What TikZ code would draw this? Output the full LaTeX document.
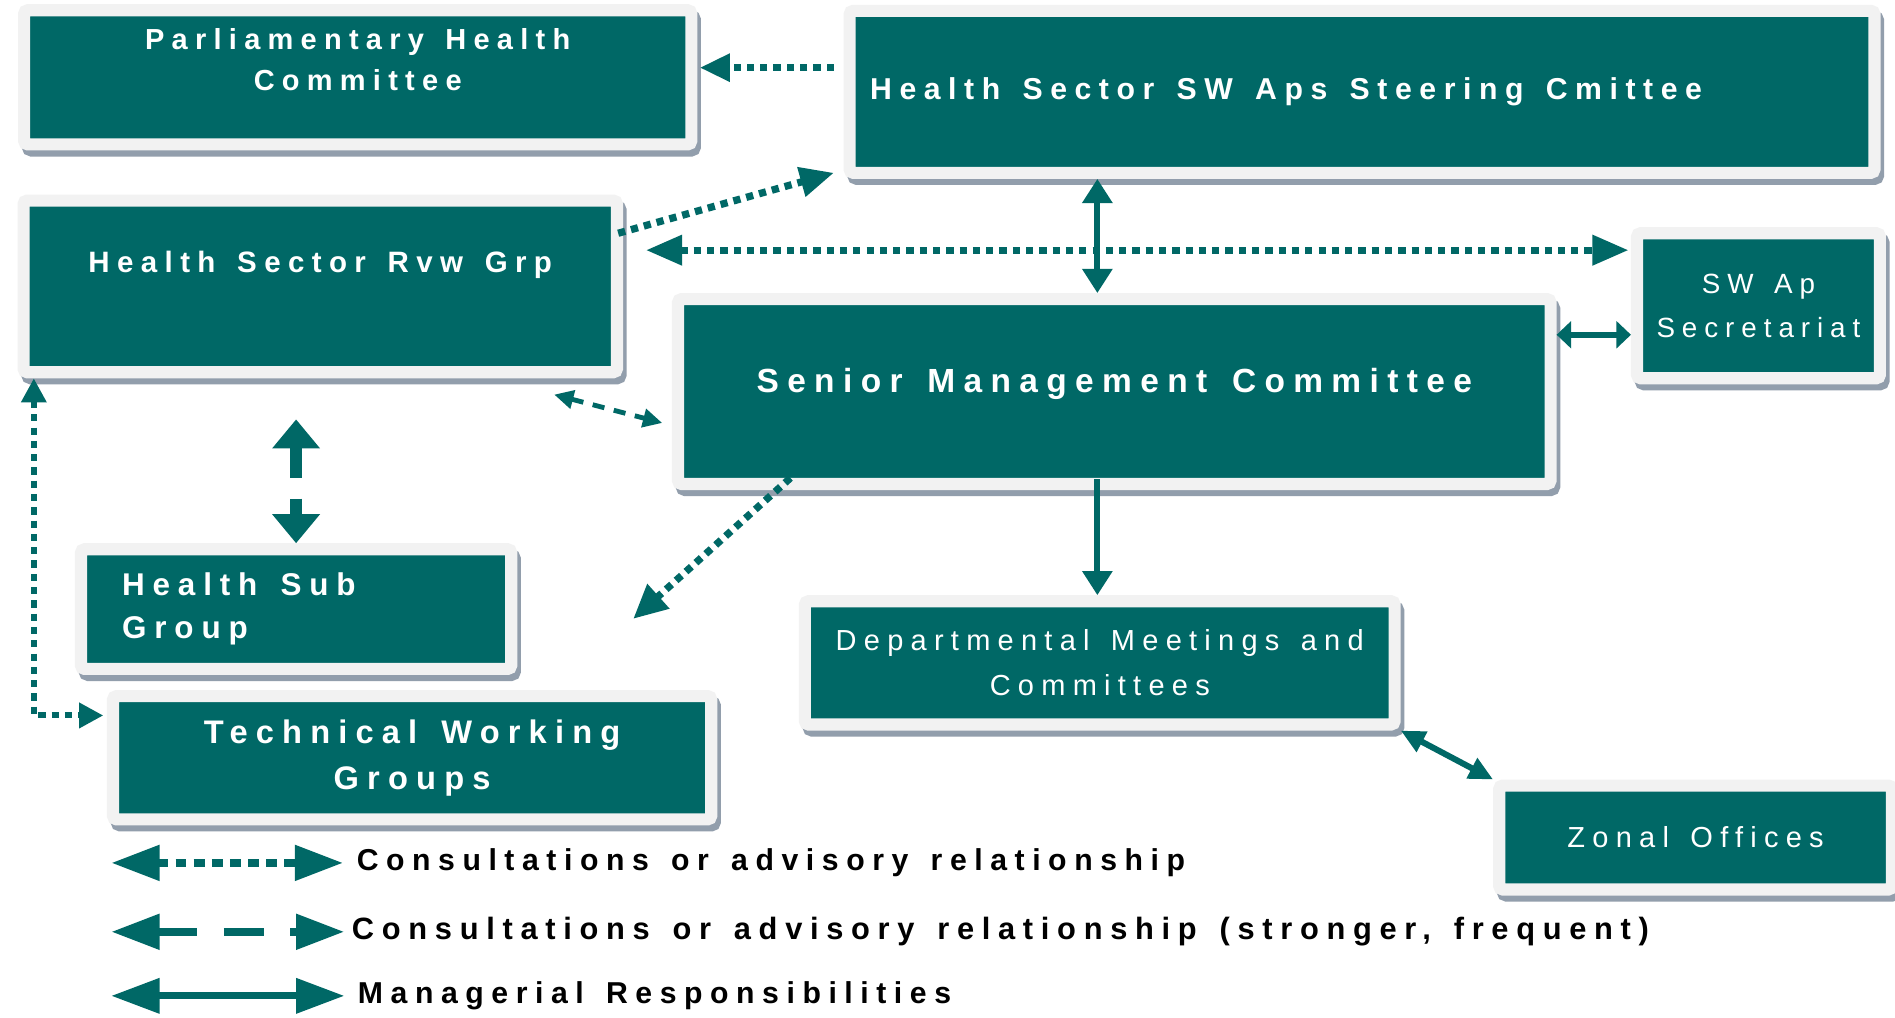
\documentclass[tikz,border=0pt]{standalone}
\usepackage{fontspec}
\setmainfont{Liberation Sans}
\newfontfamily\spaced[LetterSpace=25,WordSpace=1.4]{Liberation Sans}
\usetikzlibrary{arrows.meta,positioning,shadows}
\definecolor{hsteal}{RGB}{0,104,102}
\definecolor{hsframe}{RGB}{242,242,242}
\definecolor{hsshadow}{RGB}{146,158,172}
\tikzset{
    %Define standard arrow tip
    >={Triangle[length=20pt,width=22pt]},
    %Define style for boxes
    unitbox/.style={
           rectangle,
           rounded corners=3pt,
           fill=hsteal,
           draw=hsframe, line width=10pt,
           drop shadow={shadow xshift=3pt, shadow yshift=-5pt,
                        fill=hsshadow, draw=hsshadow, line width=10pt, opacity=1},
           text=white,
           align=center},
    unitbf/.style={unitbox, font={\spaced\bfseries\fontsize{24}{34}\selectfont}},
    unitrm/.style={unitbox, font={\spaced\fontsize{24}{37}\selectfont}},
    % Define arrow styles
    consult/.style={hsteal, line width=6pt, dash pattern=on 6pt off 5pt},
    strong/.style={hsteal, line width=4pt, dash pattern=on 10pt off 8pt},
    manage/.style={hsteal, line width=5pt},
    keytext/.style={font={\spaced\bfseries\fontsize{25}{30}\selectfont}, inner sep=0pt}
}
\begin{document}
\begin{tikzpicture}[x=1pt, y=-1pt]
    \useasboundingbox (0,0) rectangle (1568,842);
    \fill[white] (0,0) rectangle (1568,842);
    % boxes
    \node[unitbf, minimum width=552pt, minimum height=111pt, text depth=30pt] (parl) at (296,64) {Parliamentary Health\\Committee};
    \node[unitbf, minimum width=848pt, minimum height=134pt,
          font={\spaced\bfseries\fontsize{25}{34}\selectfont}] (steer) at (1127,76)
          {\makebox[814pt][l]{Health Sector SW Aps Steering Cmittee}};
    \node[unitbf, minimum width=491pt, minimum height=142pt, text depth=40pt,
          font={\spaced\bfseries\fontsize{24.4}{34}\selectfont}] (rvw) at (265,237) {Health Sector Rvw Grp};
    \node[unitrm, minimum width=201pt, minimum height=120pt,
          font={\spaced\fontsize{23}{36}\selectfont}] (swap) at (1455,253) {SW Ap\\Secretariat};
    \node[unitbf, minimum width=722pt, minimum height=153pt, text depth=18pt,
          font={\spaced\bfseries\fontsize{27.7}{34}\selectfont}] (senior) at (922,324) {Senior Management Committee};
    \node[unitbf, minimum width=356pt, minimum height=99pt, align=left,
          font={\spaced\bfseries\fontsize{26}{36}\selectfont}] (sub) at (245,504) {\makebox[288pt][l]{Health Sub}\\Group};
    \node[unitbf, minimum width=495pt, minimum height=102pt,
          font={\spaced\bfseries\fontsize{27}{38}\selectfont}] (twg) at (341,627) {Technical Working\\Groups};
    \node[unitrm, minimum width=488pt, minimum height=102pt] (dept) at (910,548.5) {Departmental Meetings and\\Committees};
    \node[unitrm, minimum width=325pt, minimum height=86pt] (zonal) at (1403,693) {Zonal Offices};
    % connectors
    \coordinate (spine) at ([xshift=-14pt]senior.north);
    \coordinate (drift) at (524,512);
    \draw[consult, ->, >={Triangle[length=25pt,width=22pt]}, shorten <=8pt, shorten >=2pt]
          ([yshift=20pt]steer.west) -- ([yshift=8pt]parl.east);
    \draw[consult, ->, >={Triangle[length=28pt,width=24pt]}]
          ([xshift=-4pt,yshift=-32pt]rvw.north east) -- ([xshift=-8pt,yshift=5pt]steer.south west);
    \draw[consult, <->, >={Triangle[length=30pt,width=24pt]}, shorten <=19pt, shorten >=2pt]
          ([yshift=30pt]rvw.east) -- ([yshift=46pt]swap.west);
    \draw[manage, <->, >={Triangle[length=20pt,width=24pt]}] (spine |- steer.south) -- (spine);
    \draw[manage, <->, >={Triangle[length=12pt,width=22pt]}]
          ([yshift=47pt]senior.east) -- ([yshift=-24pt]swap.west);
    \draw[strong, <->, >={Triangle[length=16pt,width=15pt]}]
          ([xshift=-57pt,yshift=-13.5pt]rvw.south east) -- ([xshift=-8pt,yshift=-26pt]senior.west);
    \draw[strong, <->, line width=10pt, dash pattern=on 26pt off 17pt,
          >={Triangle[length=24pt,width=38pt]}, shorten <=34pt]
          (sub.north |- rvw.south) -- (sub.north);
    \draw[consult, ->, >={Triangle[length=28pt,width=26pt]}]
          ([xshift=98pt,yshift=10pt]senior.south west) -- (drift);
    \draw[manage, ->, >={Triangle[length=20pt,width=24pt]}, shorten <=-9pt]
          (spine |- senior.south) -- (spine |- dept.north);
    \draw[manage, <->, >={Triangle[length=20pt,width=18pt]}] (dept.south east) -- (zonal.north west);
    \draw[consult, <->, line width=5pt, >={Triangle[length=20pt,width=20pt]}, shorten >=3pt]
          ([xshift=13.5pt]rvw.south west) |- ([yshift=35pt]twg.west);
    % legend
    \coordinate (lgA) at (92,714);
    \coordinate (lgB) at (92,771);
    \coordinate (lgC) at (92,824);
    \node[keytext, right=203pt of lgA] (lgA-t) {Consultations or advisory relationship};
    \node[keytext, right=199pt of lgB, font={\spaced\bfseries\fontsize{25.5}{30}\selectfont}] (lgB-t)
          {Consultations or advisory relationship (stronger, frequent)};
    \node[keytext, right=204pt of lgC] (lgC-t) {Managerial Responsibilities};
    \draw[consult, <->, line width=7pt, dash pattern=on 9pt off 6pt, >={Triangle[length=40pt,width=28pt]}]
          (lgA) -- ([xshift=-11pt]lgA-t.west);
    \draw[strong, <->, line width=7pt, dash pattern=on 33pt off 22pt, >={Triangle[length=40pt,width=28pt]}]
          (lgB) -- ([xshift=-6pt]lgB-t.west);
    \draw[manage, <->, line width=6pt, >={Triangle[length=40pt,width=28pt]}]
          (lgC) -- ([xshift=-11pt]lgC-t.west);
\end{tikzpicture}
\end{document}
